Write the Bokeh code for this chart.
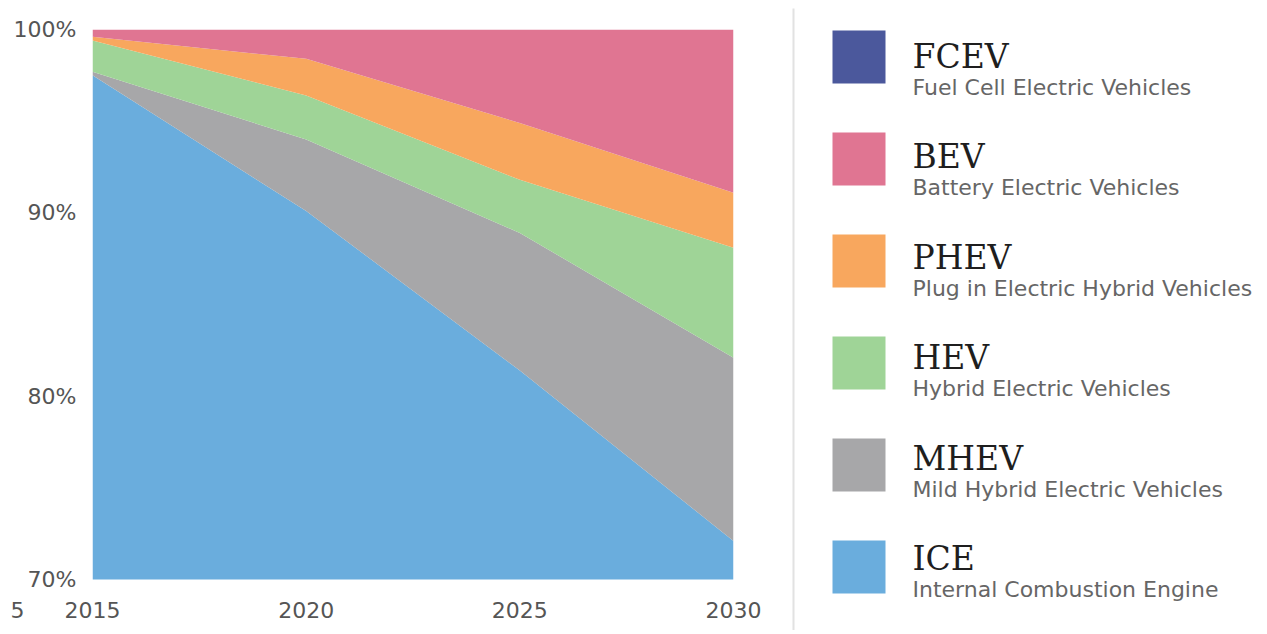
from bokeh.plotting import figure
from bokeh.models import ColumnDataSource, Range1d, FixedTicker
from bokeh.layouts import row
from bokeh.embed import file_html
from bokeh.resources import INLINE
from bokeh.core.properties import value

# ---- data (percent share of sales) ----
years = [2015, 2020, 2025, 2030]
ice = [97.5, 90.1, 81.4, 72.1]
mhev = [0.2, 3.9, 7.5, 10.0]
hev = [1.7, 2.4, 2.9, 6.0]
phev = [0.2, 2.0, 3.1, 3.0]
bev = [0.4, 1.6, 5.1, 8.9]
fcev = [0.0, 0.0, 0.0, 0.0]

x_ticks = [2015, 2020, 2025, 2030]
y_ticks = [70, 80, 90, 100]
y_tick_labels = ["70%", "80%", "90%", "100%"]

stack_order = ["ICE", "MHEV", "HEV", "PHEV", "BEV", "FCEV"]
legend_codes = ["FCEV", "BEV", "PHEV", "HEV", "MHEV", "ICE"]
legend_desc = ["Fuel Cell Electric Vehicles", "Battery Electric Vehicles",
               "Plug in Electric Hybrid Vehicles", "Hybrid Electric Vehicles",
               "Mild Hybrid Electric Vehicles", "Internal Combustion Engine"]
palette = {"FCEV": "#4b589c", "BEV": "#e07592", "PHEV": "#f8a75e",
           "HEV": "#9fd497", "MHEV": "#a7a7a9", "ICE": "#6aaddd"}

SANS = "DejaVu Sans"
TICK_COLOR = "#555555"

# layout (pixels)
FIG_H = 630
TOP, FRAME_H = 29, 550
BOTTOM = FIG_H - TOP - FRAME_H
MAIN_W = 780

# ---- main stacked area chart ----
source = ColumnDataSource(dict(year=years, ICE=ice, MHEV=mhev, HEV=hev,
                               PHEV=phev, BEV=bev, FCEV=fcev))

p = figure(width=MAIN_W, height=FIG_H, output_backend="svg", toolbar_location=None,
           x_range=Range1d(2015, 2030), y_range=Range1d(70, 100),
           min_border_left=92, min_border_right=47, min_border_top=TOP,
           min_border_bottom=BOTTOM)
p.varea_stack(stackers=stack_order, x="year", source=source,
              color=[palette[k] for k in stack_order])

p.outline_line_color = None
p.grid.visible = False
for ax in (p.xaxis[0], p.yaxis[0]):
    ax.axis_line_color = None
    ax.major_tick_line_color = None
    ax.minor_tick_line_color = None
    ax.major_label_text_font = SANS
    ax.major_label_text_font_size = "22px"
    ax.major_label_text_color = TICK_COLOR

p.xaxis.ticker = FixedTicker(ticks=x_ticks)
p.xaxis.major_label_standoff = 16
p.yaxis.ticker = FixedTicker(ticks=y_ticks)
p.yaxis.major_label_overrides = {t: l for t, l in zip(y_ticks, y_tick_labels)}
p.yaxis.major_label_standoff = 10

# clipped tick-label fragment visible at the far left of the reference
frag = p.text(x=[2013.245], y=[68.36], text=["5"], text_font=value(SANS),
              text_font_size="22px", text_color=TICK_COLOR,
              text_align="center", text_baseline="middle")
frag.level = "overlay"

# ---- legend panel (page-pixel coordinates) ----
LEG_W = 1267 - MAIN_W
lg = figure(width=LEG_W, height=FIG_H, output_backend="svg", toolbar_location=None,
            x_range=Range1d(MAIN_W, MAIN_W + LEG_W), y_range=Range1d(TOP + FRAME_H, TOP),
            x_axis_type=None, y_axis_type=None,
            min_border_left=0, min_border_right=0,
            min_border_top=TOP, min_border_bottom=BOTTOM)
lg.outline_line_color = None
lg.grid.visible = False

sep = lg.segment(x0=[793], y0=[8], x1=[793], y1=[632], line_color="#e2e2e2", line_width=2)
sep.level = "overlay"

n = len(legend_codes)
sw_tops = [30 + i * 102 for i in range(n)]
tx_tops = [30 + i * 100.4 for i in range(n)]
lsrc = ColumnDataSource(dict(
    code=legend_codes, desc=legend_desc,
    color=[palette[c] for c in legend_codes],
    cy=[t + 26.5 for t in sw_tops],
    ty=[t + 26 for t in tx_tops],
    dy=[t + 57 for t in tx_tops],
))
r1 = lg.rect(x=858.5, y="cy", width=53, height=53, fill_color="color",
             line_color=None, source=lsrc)
r2 = lg.text(x=912, y="ty", text="code", text_font=value("DejaVu Serif"),
             text_font_size="33px", text_color="#1e1e1e",
             text_baseline="alphabetic", source=lsrc)
r3 = lg.text(x=912, y="dy", text="desc", text_font=value(SANS),
             text_font_size="22px", text_color="#666666",
             text_baseline="alphabetic", source=lsrc)
for r in (r1, r2, r3):
    r.level = "overlay"

layout = row(p, lg, spacing=0)
open("out.html", "w").write(file_html(layout, INLINE))
